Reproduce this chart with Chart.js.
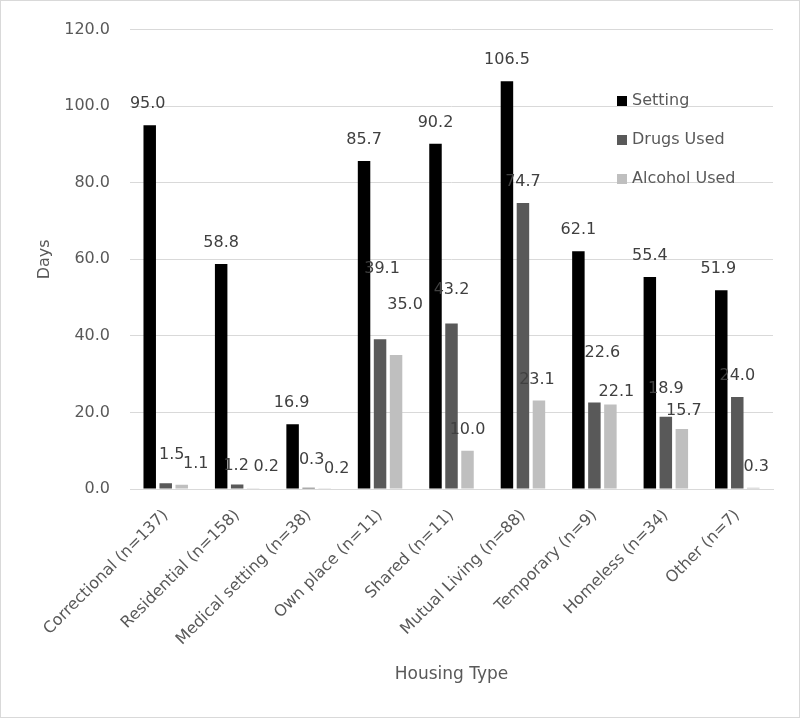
<!DOCTYPE html>
<html>
<head>
<meta charset="utf-8">
<script src="https://cdn.jsdelivr.net/npm/chart.js@4/dist/chart.umd.min.js"></script>
<style>
  html, body { margin: 0; padding: 0; background: #ffffff; }
  #wrap { width: 800px; height: 718px; }
</style>
</head>
<body>
<div id="wrap"><canvas id="c" width="800" height="718"></canvas></div>
<script>
// ---- Data ----
const categories = [
  'Correctional (n=137)', 'Residential (n=158)', 'Medical setting (n=38)',
  'Own place (n=11)', 'Shared (n=11)', 'Mutual Living (n=88)',
  'Temporary (n=9)', 'Homeless (n=34)', 'Other (n=7)'
];
const seriesNames = ['Setting', 'Drugs Used', 'Alcohol Used'];
const settingDays = [95.0, 58.8, 16.9, 85.7, 90.2, 106.5, 62.1, 55.4, 51.9];
const drugsDays   = [1.5, 1.2, 0.3, 39.1, 43.2, 74.7, 22.6, 18.9, 24.0];
const alcoholDays = [1.1, 0.2, 0.2, 35.0, 10.0, 23.1, 22.1, 15.7, 0.3];
const yTicks = [0, 20, 40, 60, 80, 100, 120];

// ---- Label placement nudges (dx, dy in px), separate from data ----
const labelNudges = [
  [[-2,0],[0,0],[-1,0],[0,0],[0,0],[0,0],[0,0],[0,0],[-3,0]],
  [[6,-7],[-1,2],[3,-7],[2,-49],[0,-13],[0,0],[8,-29],[0,-7],[0,0]],
  [[14,0],[13,0],[12,2],[9,-29],[0,0],[-2,0],[6,8],[2,3],[3,0]]
];

const colors = ['#000000', '#595959', '#bfbfbf'];
const FONT = '"DejaVu Sans", sans-serif';

const frameAndBg = {
  id: 'frameAndBg',
  beforeDraw(chart) {
    const ctx = chart.ctx;
    ctx.save();
    ctx.fillStyle = '#ffffff';
    ctx.fillRect(0, 0, chart.width, chart.height);
    ctx.strokeStyle = '#d9d9d9';
    ctx.lineWidth = 1;
    ctx.strokeRect(0.5, 0.5, chart.width - 1, chart.height - 1);
    ctx.restore();
  }
};

const valueLabels = {
  id: 'valueLabels',
  afterDatasetsDraw(chart) {
    const ctx = chart.ctx;
    ctx.save();
    ctx.font = '16px ' + FONT;
    ctx.fillStyle = '#404040';
    ctx.textAlign = 'center';
    ctx.textBaseline = 'middle';
    chart.data.datasets.forEach((ds, di) => {
      const meta = chart.getDatasetMeta(di);
      meta.data.forEach((bar, i) => {
        const n = labelNudges[di][i] || [0, 0];
        ctx.fillText(ds.data[i].toFixed(1), bar.x + n[0], bar.y - 21 + n[1]);
      });
    });
    ctx.restore();
  }
};

const sideLegend = {
  id: 'sideLegend',
  afterDraw(chart) {
    const ctx = chart.ctx;
    ctx.save();
    ctx.font = '16px ' + FONT;
    ctx.textAlign = 'left';
    ctx.textBaseline = 'middle';
    const x0 = 617, y0 = 101, gap = 39;
    chart.data.datasets.forEach((ds, i) => {
      const y = y0 + i * gap;
      ctx.fillStyle = ds.backgroundColor;
      ctx.fillRect(x0, y - 5, 10, 10);
      ctx.fillStyle = '#595959';
      ctx.fillText(ds.label, x0 + 15, y);
    });
    ctx.restore();
  }
};

const datasets = [settingDays, drugsDays, alcoholDays].map((vals, i) => ({
  label: seriesNames[i],
  data: vals,
  backgroundColor: colors[i],
  borderWidth: 0,
  categoryPercentage: 0.672,
  barPercentage: 0.78
}));

new Chart(document.getElementById('c'), {
  type: 'bar',
  data: { labels: categories, datasets },
  options: {
    responsive: false,
    animation: false,
    devicePixelRatio: 1,
    layout: { padding: { top: 25, right: 27, left: 0, bottom: 0 } },
    plugins: {
      legend: { display: false },
      tooltip: { enabled: false }
    },
    scales: {
      x: {
        grid: { display: false, drawTicks: false },
        border: { display: true, color: '#d9d9d9', width: 1 },
        ticks: {
          color: '#595959',
          font: { family: FONT, size: 16 },
          minRotation: 45,
          maxRotation: 45,
          autoSkip: false,
          padding: 17
        },
        title: {
          display: true,
          text: 'Housing Type',
          color: '#595959',
          font: { family: FONT, size: 17 },
          padding: { top: 0, bottom: 33 }
        },
        afterFit(scale) { scale.height = 229; }
      },
      y: {
        min: 0,
        max: 120,
        afterBuildTicks(scale) { scale.ticks = yTicks.map(v => ({ value: v })); },
        grid: { color: '#d9d9d9', drawTicks: false },
        border: { display: false },
        ticks: {
          color: '#595959',
          font: { family: FONT, size: 16 },
          padding: 20,
          callback: v => Number(v).toFixed(1)
        },
        title: {
          display: true,
          text: 'Days',
          color: '#595959',
          font: { family: FONT, size: 16 },
          padding: { top: 35, bottom: 0 }
        },
        afterFit(scale) { scale.width = 130; }
      }
    }
  },
  plugins: [frameAndBg, valueLabels, sideLegend]
});
</script>
</body>
</html>
